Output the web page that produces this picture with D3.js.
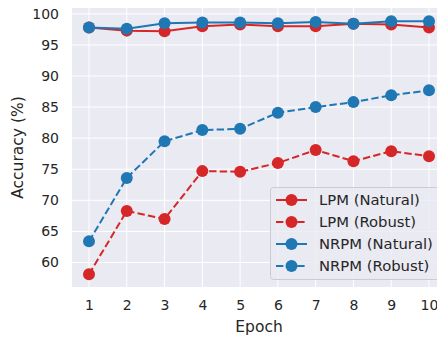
<!DOCTYPE html>
<html><head><meta charset="utf-8">
<script src="https://cdn.jsdelivr.net/npm/d3@7"></script>
<style>body{margin:0;background:#fff;}svg{display:block;font-family:"DejaVu Sans",sans-serif;}</style>
</head><body>
<svg id="c" width="437" height="337"></svg>
<script>
const epochs = [1,2,3,4,5,6,7,8,9,10];
const lpmNatural  = [97.8,97.3,97.2,98.0,98.3,98.0,98.0,98.4,98.3,97.8];
const lpmRobust   = [58.1,68.3,67.0,74.7,74.6,76.0,78.1,76.3,77.9,77.1];
const nrpmNatural = [97.8,97.6,98.5,98.6,98.6,98.5,98.7,98.4,98.8,98.8];
const nrpmRobust  = [63.4,73.6,79.5,81.3,81.5,84.1,85.0,85.8,86.9,87.7];
const yTicks = [60,65,70,75,80,85,90,95,100];
const seriesNames = ["LPM (Natural)","LPM (Robust)","NRPM (Natural)","NRPM (Robust)"];

const series = [
  {name:seriesNames[0], values:lpmNatural, color:"#d62728", dash:null},
  {name:seriesNames[1], values:lpmRobust, color:"#d62728", dash:"7.4,3.2"},
  {name:seriesNames[2], values:nrpmNatural, color:"#1f77b4", dash:null},
  {name:seriesNames[3], values:nrpmRobust, color:"#1f77b4", dash:"7.4,3.2"}
];

const svg = d3.select("#c");
const L=72, R=446, T=8, B=287;
const x = d3.scaleLinear().domain([0.55,10.45]).range([L,R]);
const y = d3.scaleLinear().domain([56.06,100.94]).range([B,T]);

svg.append("rect").attr("x",L).attr("y",T).attr("width",R-L).attr("height",B-T).attr("fill","#eaeaf2");

const g = svg.append("g");
g.selectAll("line.gx").data(epochs).join("line")
  .attr("x1",d=>x(d)).attr("x2",d=>x(d)).attr("y1",T).attr("y2",B)
  .attr("stroke","#fff").attr("stroke-width",1);
g.selectAll("line.gy").data(yTicks).join("line")
  .attr("y1",d=>y(d)).attr("y2",d=>y(d)).attr("x1",L).attr("x2",R)
  .attr("stroke","#fff").attr("stroke-width",1);

const xAxis = svg.append("g").attr("transform",`translate(0,${B})`)
  .call(d3.axisBottom(x).tickValues(epochs).tickSize(0).tickPadding(13).tickFormat(d3.format("d")));
xAxis.select(".domain").remove();
xAxis.selectAll("text").attr("font-size","14px").attr("fill","#262626").attr("font-family","DejaVu Sans");

const yAxis = svg.append("g").attr("transform",`translate(${L},0)`)
  .call(d3.axisLeft(y).tickValues(yTicks).tickSize(0).tickPadding(13).tickFormat(d3.format("d")));
yAxis.select(".domain").remove();
yAxis.selectAll("text").attr("font-size","14px").attr("fill","#262626").attr("font-family","DejaVu Sans");

svg.append("text").attr("x",(L+R)/2).attr("y",332).attr("text-anchor","middle")
  .attr("font-size","15.5px").attr("fill","#262626").text("Epoch");
svg.append("text").attr("transform",`translate(23,${(T+B)/2}) rotate(-90)`).attr("text-anchor","middle")
  .attr("font-size","15.5px").attr("fill","#262626").text("Accuracy (%)");

const line = d3.line().x((d,i)=>x(epochs[i])).y(d=>y(d));
series.forEach(s=>{
  g.append("path").attr("d",line(s.values)).attr("fill","none")
    .attr("stroke",s.color).attr("stroke-width",2).attr("stroke-dasharray",s.dash);
  g.selectAll(null).data(s.values).join("circle")
    .attr("cx",(d,i)=>x(epochs[i])).attr("cy",d=>y(d)).attr("r",6).attr("fill",s.color);
});

// legend
const lg = svg.append("g");
lg.append("rect").attr("x",270.5).attr("y",187.5).attr("width",180).attr("height",92).attr("rx",3)
  .attr("fill","#eaeaf2").attr("fill-opacity",0.8).attr("stroke","#cccccc").attr("stroke-width",1);
series.forEach((s,i)=>{
  const yy = 200 + i*22;
  lg.append("line").attr("x1",276).attr("x2",307).attr("y1",yy).attr("y2",yy)
    .attr("stroke",s.color).attr("stroke-width",2).attr("stroke-dasharray",s.dash);
  lg.append("circle").attr("cx",291.5).attr("cy",yy).attr("r",6).attr("fill",s.color);
  lg.append("text").attr("x",319).attr("y",yy).attr("dy","0.35em").attr("font-size","14.8px")
    .attr("fill","#262626").text(s.name);
});
</script>
</body></html>
